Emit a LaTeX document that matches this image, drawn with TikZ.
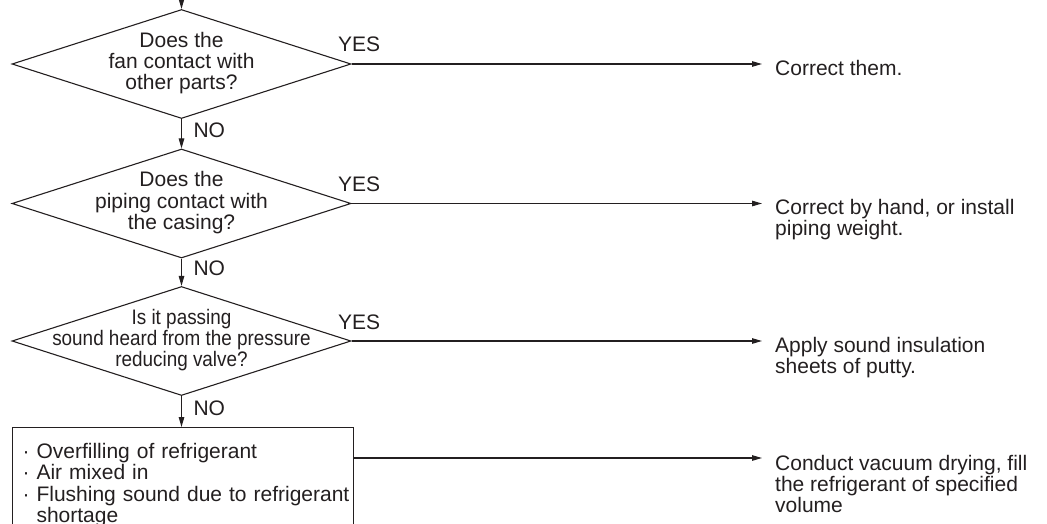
\documentclass[tikz,border=0pt]{standalone}
\usepackage{fontspec}
\setmainfont{Liberation Sans}
\usetikzlibrary{shapes.geometric,arrows.meta}
\definecolor{ink}{HTML}{231F20}
\newcommand\dectext[1]{\makebox[0pt]{\begin{tabular}{@{}c@{}}#1\end{tabular}}}
\newcommand\restext[1]{\begin{tabular}[t]{@{}l@{}}#1\end{tabular}}
\begin{document}
\begin{tikzpicture}[x=1pt,y=-1pt,
  every node/.style={font=\fontsize{21}{20}\selectfont, text=ink},
  dec/.style={diamond, draw=ink, line width=1.1pt, minimum width=339pt, minimum height=109pt, inner sep=0pt},
  arr/.style={draw=ink, line width=1.1pt, -{Triangle[length=10pt,width=5.5pt]}},
  res/.style={anchor=base west, inner xsep=13pt, inner ysep=0pt},
  nolab/.style={pos=0.5, anchor=base west, inner sep=0pt, xshift=11.5pt, yshift=-3.5pt},
  yeslab/.style={at start, anchor=base west, inner sep=0pt, xshift=-14pt, yshift=12pt},
  causebox/.style={draw=ink, line width=1.1pt, anchor=north west, text width=321pt, inner xsep=10pt, inner ysep=16pt}]
\useasboundingbox (0,0) rectangle (1047,524);

\coordinate (in) at (181.5,-2);
\node[dec] (d1) at (181.5,64) {\dectext{Does the\\fan contact with\\other parts?}};
\node[dec] (d2) at (181.5,203.5) {\dectext{Does the\\piping contact with\\the casing?}};
\node[dec] (d3) at (181.5,341) {\raisebox{-3pt}{\scalebox{0.9}[1]{\dectext{Is it passing\\sound heard from the pressure\\reducing valve?}}}};
\node[causebox] (c) at (12,427) {\noindent\begin{tabular}{@{}l@{}}· Overfilling of refrigerant\\· Air mixed in\\· Flushing sound due to refrigerant\\\phantom{· }shortage\end{tabular}};

\node[res] (t1) at (762,75.5) {\restext{Correct them.}};
\node[res] (t2) at (762,214.5) {\restext{Correct by hand, or install\\piping weight.}};
\node[res] (t3) at (762,352.5) {\restext{Apply sound insulation\\sheets of putty.}};
\node[res] (t4) at (762,470) {\restext{Conduct vacuum drying, fill\\the refrigerant of specified\\volume}};
\coordinate (e4) at ([yshift=12pt]t4.base west);

\draw[arr] (in) -- (d1.north);
\draw[arr] (d1.south) -- node[nolab]{NO} (d2.north);
\draw[arr] (d2.south) -- node[nolab]{NO} (d3.north);
\draw[arr] (d3.south) -- node[nolab]{NO} (d3.south |- c.north);

\draw[arr] (d1.east) -- node[yeslab]{YES} (d1.east -| t1.west);
\draw[arr] (d2.east) -- node[yeslab]{YES} (d2.east -| t2.west);
\draw[arr] (d3.east) -- node[yeslab]{YES} (d3.east -| t3.west);
\draw[arr] (c.east |- e4) -- (e4);
\end{tikzpicture}
\end{document}
